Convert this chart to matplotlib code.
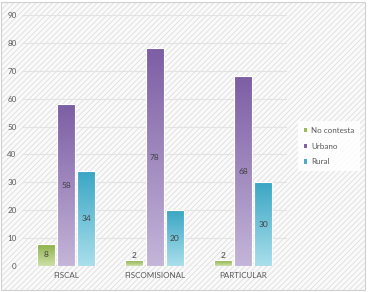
import numpy as np
import matplotlib
matplotlib.use("Agg")
import matplotlib.pyplot as plt
from matplotlib.patches import Rectangle
from matplotlib.colors import LinearSegmentedColormap

categories = ["FISCAL", "FISCOMISIONAL", "PARTICULAR"]
series_names = ["No contesta", "Urbano", "Rural"]
no_contesta = [8, 2, 2]
urbano = [58, 78, 68]
rural = [34, 20, 30]
yticks = [0, 10, 20, 30, 40, 50, 60, 70, 80, 90]

# (top colour, bottom colour) gradients
GRAD = [("#8aae45", "#cde0a8"), ("#7c5ea4", "#c4b5d9"), ("#3aa6c4", "#aadfeb")]
LEGCOL = ["#9bbb59", "#8064a2", "#4bacc6"]

plt.rcParams["font.family"] = ["Lato", "DejaVu Sans"]
plt.rcParams["hatch.linewidth"] = 0.6

fig = plt.figure(figsize=(3.68, 2.92), dpi=100)
fig.patch.set_facecolor("white")
bg = Rectangle((0.003, 0.008), 0.99, 0.985, transform=fig.transFigure, facecolor="#fafafa",
               edgecolor="#dedede", hatch="//////", linewidth=0, zorder=-10)
fig.patches.append(bg)
border = Rectangle((0.003, 0.008), 0.99, 0.985, transform=fig.transFigure, facecolor="none",
                   edgecolor="#d0d0d0", linewidth=0.8, zorder=-9)
fig.patches.append(border)

ax = fig.add_axes([0.06, 0.089, 0.72, 0.86])
ax.set_facecolor("none")
ax.set_xlim(-0.5, 2.5)
ax.set_ylim(0, 90)
ax.set_yticks(yticks)
ax.grid(axis="y", color="#e3e3e3", linewidth=0.8)
ax.set_axisbelow(True)
for s in ax.spines.values():
    s.set_visible(False)
ax.tick_params(length=0, labelsize=5.8, labelcolor="#595959", pad=4)
ax.axhline(0, color="#d9d9d9", linewidth=0.8)

x = np.arange(len(categories))
w = 0.205
gap = 0.023
data = [no_contesta, urbano, rural]
for i, vals in enumerate(data):
    off = (i - 1) * (w + gap)
    cmap = LinearSegmentedColormap.from_list("g%d" % i, [GRAD[i][1], GRAD[i][0]])
    for xi, v in zip(x, vals):
        x0 = xi + off - w / 2
        rect = Rectangle((x0, 0), w, v, facecolor="none", edgecolor="white", linewidth=0.8, zorder=3)
        ax.add_patch(rect)
        grad = np.linspace(0, 1, 256).reshape(-1, 1)
        im = ax.imshow(grad, extent=[x0, x0 + w, 0, max(v, 0.01)], origin="lower",
                       cmap=cmap, aspect="auto", zorder=2)
        im.set_clip_path(rect)
        if v >= 5:
            ax.text(xi + off, v / 2, str(v), ha="center", va="center", fontsize=6,
                    color="#404040", zorder=4)
        else:
            ax.text(xi + off, v + 0.6, str(v), ha="center", va="bottom", fontsize=6,
                    color="#404040", zorder=4)
    ax.bar([0], [0], color=LEGCOL[i], label=series_names[i])

ax.set_xticks(x)
ax.set_xticklabels(categories)
ax.set_xlim(-0.5, 2.5)
ax.set_ylim(0, 90)

leg = fig.legend(loc="center left", bbox_to_anchor=(0.8, 0.5), frameon=True, fontsize=5.8,
                 handlelength=0.4, handleheight=0.4, handletextpad=0.5, labelspacing=1.1,
                 borderpad=0.7, fancybox=False, labelcolor="#595959")
leg.get_frame().set_facecolor("white")
leg.get_frame().set_edgecolor("none")
leg.get_frame().set_alpha(0.85)

fig.savefig("out.png", dpi=100)
